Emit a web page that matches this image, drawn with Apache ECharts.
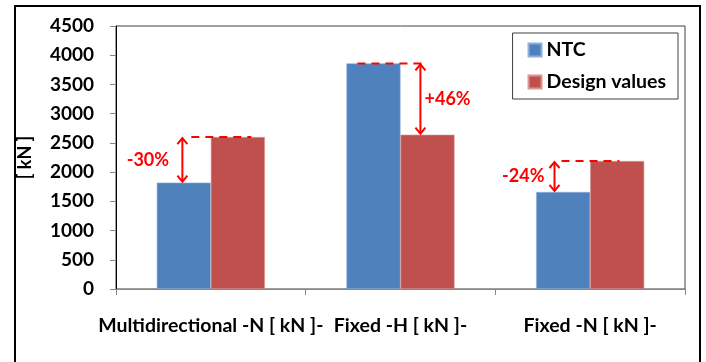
<!DOCTYPE html>
<html>
<head>
<meta charset="utf-8">
<script src="https://cdn.jsdelivr.net/npm/echarts@6/dist/echarts.min.js"></script>
<style>
  html, body { margin: 0; padding: 0; background: #fff; }
  #chart { width: 706px; height: 362px; }
</style>
</head>
<body>
<div id="chart"></div>
<script>
// Categories and series values
const categories = ['Multidirectional -N [ kN ]-', 'Fixed -H [ kN ]-', 'Fixed -N [ kN ]-'];
const ntcValues = [1820, 3860, 1660];
const designValues = [2600, 2640, 2190];
const diffLabels = ['-30%', '+46%', '-24%'];
const yTicks = { min: 0, max: 4500, step: 500 };

// Placement of each annotation inside its category band (fraction of band width)
const annotationLayout = [
  { arrow: -0.150, dashFrom: -0.103, dashTo: 0.213, text: -0.332 },
  { arrow: 0.105, dashFrom: -0.227, dashTo: 0.116, text: 0.248 },
  { arrow: -0.188, dashFrom: -0.151, dashTo: 0.154, text: -0.353 }
];

const FONT = 'Lato';
const RED = '#FF0000';

const annotationData = categories.map((c, i) => [i, ntcValues[i], designValues[i]]);

function renderAnnotation(params, api) {
  const i = api.value(0);
  const a = api.value(1);
  const b = api.value(2);
  const lay = annotationLayout[i];
  const band = api.size([1, 0])[0];
  const cx = api.coord([i, 0])[0];
  const yA = api.coord([i, a])[1];
  const yB = api.coord([i, b])[1];
  const yTop = Math.min(yA, yB);
  const yBot = Math.max(yA, yB);
  const ax = cx + lay.arrow * band;
  const head = 7, half = 5;
  const stroke = { stroke: RED, lineWidth: 2, fill: null };
  return {
    type: 'group',
    children: [
      { type: 'line', shape: { x1: lay.dashFrom * band + cx, y1: yTop, x2: lay.dashTo * band + cx, y2: yTop },
        style: { stroke: RED, lineWidth: 2, lineDash: [8, 6] } },
      { type: 'line', shape: { x1: ax, y1: yTop + 1, x2: ax, y2: yBot - 1 }, style: stroke },
      { type: 'polyline', shape: { points: [[ax - half, yTop + head], [ax, yTop + 1], [ax + half, yTop + head]] }, style: stroke },
      { type: 'polyline', shape: { points: [[ax - half, yBot - head], [ax, yBot - 1], [ax + half, yBot - head]] }, style: stroke },
      { type: 'text', x: cx + lay.text * band, y: (yTop + yBot) / 2,
        style: { text: diffLabels[i], fill: RED, font: 'bold 18px ' + FONT, align: 'center', verticalAlign: 'middle' } }
    ]
  };
}

const chart = echarts.init(document.getElementById('chart'), null, { renderer: 'canvas' });
chart.setOption({
  animation: false,
  backgroundColor: '#ffffff',
  textStyle: { fontFamily: FONT },
  graphic: [
    { type: 'rect', shape: { x: 15, y: 6, width: 685, height: 370 },
      style: { fill: null, stroke: '#000', lineWidth: 2 }, silent: true }
  ],
  grid: {
    left: 116, right: 21, top: 26, bottom: 73,
    show: true, borderColor: '#404040', borderWidth: 1, backgroundColor: 'transparent'
  },
  legend: {
    data: ['NTC', 'Design values'],
    orient: 'vertical',
    right: 28, top: 33,
    backgroundColor: '#fff',
    borderColor: '#404040', borderWidth: 1, borderRadius: 0,
    padding: [7, 12, 7, 15],
    itemWidth: 13, itemHeight: 13, itemGap: 12,
    icon: 'rect',
    textStyle: { fontFamily: FONT, fontWeight: 'bold', fontSize: 19.5, color: '#000', lineHeight: 20, padding: [0, 0, 0, 0] }
  },
  xAxis: {
    type: 'category',
    data: categories,
    axisLine: { show: true, lineStyle: { color: '#868686', width: 1 } },
    axisTick: { show: true, length: 6, alignWithLabel: false, lineStyle: { color: '#868686' } },
    axisLabel: { interval: 0, margin: 27, fontFamily: FONT, fontWeight: 'bold', fontSize: 19.5, color: '#000' },
    splitLine: { show: false }
  },
  yAxis: {
    type: 'value',
    min: yTicks.min, max: yTicks.max, interval: yTicks.step,
    name: '[ kN ]',
    nameLocation: 'middle',
    nameRotate: 90,
    nameGap: 82,
    nameTextStyle: { fontFamily: FONT, fontWeight: 'bold', fontSize: 18, color: '#000' },
    axisLine: { show: true, lineStyle: { color: '#000', width: 1 } },
    axisTick: { show: true, length: 6, lineStyle: { color: '#868686' } },
    axisLabel: { margin: 22, fontFamily: FONT, fontWeight: 'bold', fontSize: 19, color: '#000',
      formatter: v => String(v) },
    splitLine: { show: false }
  },
  series: [
    { name: 'NTC', type: 'bar', data: ntcValues, barGap: '0%', barCategoryGap: '43%',
      itemStyle: { color: '#4F81BD', borderColor: '#8EB0DA', borderWidth: 0.6 } },
    { name: 'Design values', type: 'bar', data: designValues,
      itemStyle: { color: '#C0504D', borderColor: '#D99694', borderWidth: 0.6 } },
    { name: 'diff', type: 'custom', data: annotationData, renderItem: renderAnnotation,
      encode: { x: 0, y: [1, 2] }, clip: false, z: 5, silent: true }
  ]
});
</script>
</body>
</html>
